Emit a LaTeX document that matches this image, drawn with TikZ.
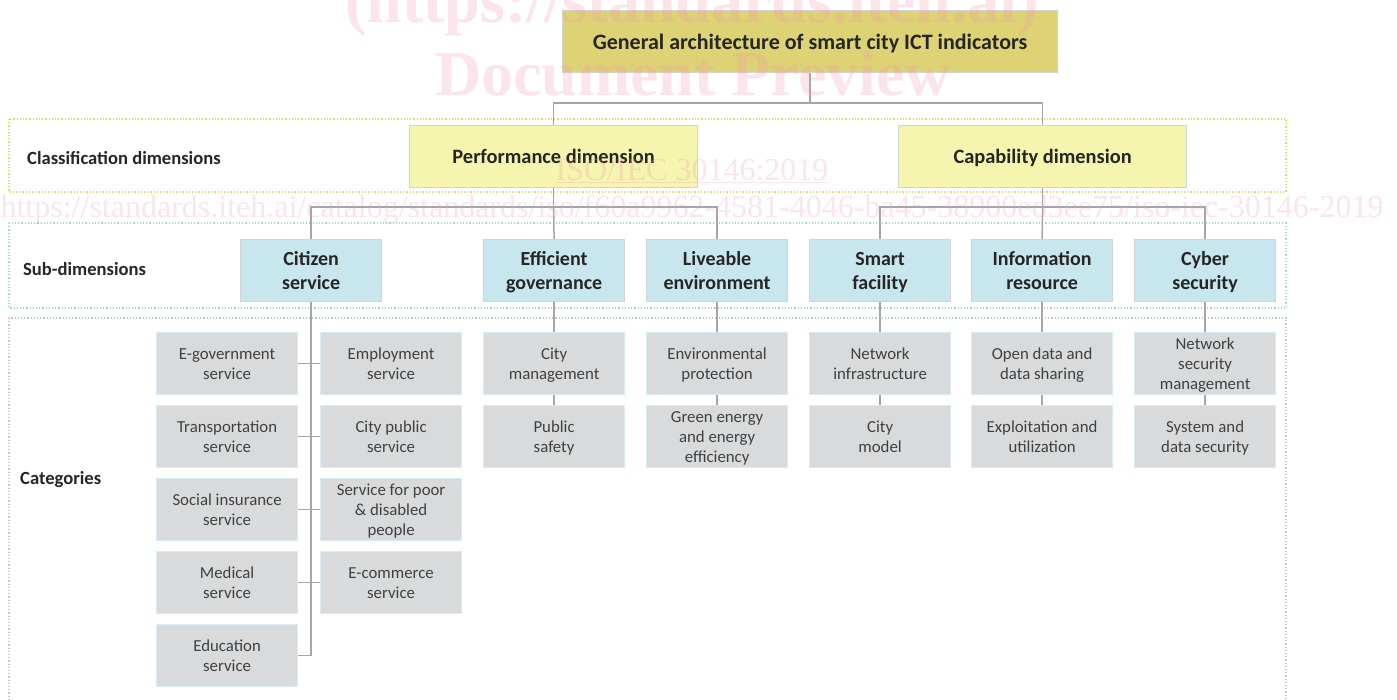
\documentclass[tikz,border=0pt]{standalone}
\usepackage{fontspec}
\usepackage{array}
\setmainfont{Carlito}
\newfontfamily\wmfont{Liberation Serif}
\newlength\bskip
\newcolumntype{C}{>{\rule[-0.2\bskip]{0pt}{\bskip}}c}
\newcommand\boxtext[1]{\setlength\bskip{\baselineskip}\renewcommand\arraystretch{0}\begin{tabular}{@{}C@{}}#1\end{tabular}}
\definecolor{titlefill}{RGB}{221,211,117}
\definecolor{dimfill}{RGB}{245,245,176}
\definecolor{subfill}{RGB}{200,230,238}
\definecolor{catfill}{RGB}{217,218,219}
\definecolor{catedge}{RGB}{215,236,244}
\definecolor{boxedge}{RGB}{212,212,212}
\definecolor{linkgray}{RGB}{166,166,166}
\definecolor{bandyellow}{RGB}{232,216,90}
\definecolor{bandblue}{RGB}{160,214,232}
\definecolor{bandgray}{RGB}{196,196,196}
\definecolor{txtdark}{RGB}{38,38,38}
\definecolor{txtcat}{RGB}{64,64,64}
\definecolor{wmpink}{RGB}{240,150,170}
\tikzset{
  base/.style={anchor=north west, inner sep=0pt, line width=1.2pt},
  titlebox/.style={base, fill=titlefill, draw=boxedge, text=txtdark, font=\bfseries\fontsize{22}{26}\selectfont},
  dimbox/.style={base, fill=dimfill, draw=boxedge, text=txtdark, font=\bfseries\fontsize{20.4}{24}\selectfont, minimum width=288pt, minimum height=62pt},
  subbox/.style={base, fill=subfill, draw=boxedge, text=txtdark, font=\bfseries\fontsize{20}{24}\selectfont, minimum width=141pt, minimum height=62pt},
  catbox/.style={base, fill=catfill, draw=catedge, text=txtcat, font=\fontsize{16.8}{20}\selectfont, minimum width=141pt, minimum height=62pt},
  bandlabel/.style={anchor=west, inner sep=0pt, text=txtdark, font=\bfseries\fontsize{18.6}{22}\selectfont},
  link/.style={draw=linkgray, line width=1.5pt},
  wm/.style={text=wmpink, opacity=0.25, inner sep=0pt}
}
\begin{document}
\begin{tikzpicture}[x=1pt,y=-1pt]
\useasboundingbox (0,0) rectangle (1397,699);
% bands
\draw[bandyellow, dotted, line width=1.2pt] (9,119) rectangle (1286,192);
\draw[bandblue, dotted, line width=1.2pt] (9,223) rectangle (1286,308);
\draw[bandgray, dotted, line width=1.2pt] (9,318) rectangle (1286,710);
\node[bandlabel] (lcls) at (27,158) {Classification dimensions};
\node[bandlabel] (lsub) at (23,269) {Sub-dimensions};
\node[bandlabel] (lcat) at (20,480) {Categories};
% title and dimensions
\node[titlebox, minimum width=495pt, minimum height=62pt] (t) at (562,10) {\boxtext{General architecture of smart city ICT indicators}};
\node[dimbox] (p) at (409,125) {\boxtext{Performance dimension}};
\node[dimbox] (c) at (898,125) {\boxtext{Capability dimension}};
% sub-dimensions
\node[subbox] (s1) at (240,239) {\boxtext{Citizen\\service}};
\node[subbox] (s2) at (483,239) {\boxtext{Efficient\\governance}};
\node[subbox] (s3) at (646,239) {\boxtext{Liveable\\environment}};
\node[subbox] (s4) at (809,239) {\boxtext{Smart\\facility}};
\node[subbox] (s5) at (971,239) {\boxtext{Information\\resource}};
\node[subbox] (s6) at (1134,239) {\boxtext{Cyber\\security}};
% citizen categories
\node[catbox] (a1) at (156,332) {\boxtext{E-government\\service}};
\node[catbox] (a2) at (156,405) {\boxtext{Transportation\\service}};
\node[catbox] (a3) at (156,478) {\boxtext{Social insurance\\service}};
\node[catbox] (a4) at (156,551) {\boxtext{Medical\\service}};
\node[catbox] (a5) at (156,624) {\boxtext{Education\\service}};
\node[catbox] (b1) at (320,332) {\boxtext{Employment\\service}};
\node[catbox] (b2) at (320,405) {\boxtext{City public\\service}};
\node[catbox] (b3) at (320,478) {\boxtext{Service for poor\\\&~disabled\\people}};
\node[catbox] (b4) at (320,551) {\boxtext{E-commerce\\service}};
% other categories
\node[catbox] (e1) at (483,332) {\boxtext{City\\management}};
\node[catbox] (e2) at (483,405) {\boxtext{Public\\safety}};
\node[catbox] (l1) at (646,332) {\boxtext{Environmental\\protection}};
\node[catbox] (l2) at (646,405) {\boxtext{Green energy\\and energy\\efficiency}};
\node[catbox] (f1) at (809,332) {\boxtext{Network\\infrastructure}};
\node[catbox] (f2) at (809,405) {\boxtext{City\\model}};
\node[catbox] (i1) at (971,332) {\boxtext{Open data and\\data sharing}};
\node[catbox] (i2) at (971,405) {\boxtext{Exploitation and\\utilization}};
\node[catbox] (y1) at (1134,332) {\boxtext{Network\\security\\management}};
\node[catbox] (y2) at (1134,405) {\boxtext{System and\\data security}};
% connectors top
\path[link] (t.south) -- (t.south |- 0,103);
\path[link] (p.north) -- (p.north |- 0,103) -- (c.north |- 0,103) -- (c.north);
\path[link] (p.south) -- (p.south |- 0,207);
\path[link] (s1.north) -- (s1.north |- 0,207) -- (s3.north |- 0,207) -- (s3.north);
\path[link] (s2.north) -- (p.south |- 0,207);
\path[link] (c.south) -- (c.south |- 0,207);
\path[link] (s4.north) -- (s4.north |- 0,207) -- (s6.north |- 0,207) -- (s6.north);
\path[link] (s5.north) -- (c.south |- 0,207);
% citizen trunk
\path[link] (s1.south) -- (s1.south |- a5.east);
\path[link] (a1.east) -- (b1.west);
\path[link] (a2.east) -- (b2.west);
\path[link] (a3.east) -- (b3.west);
\path[link] (a4.east) -- (b4.west);
\path[link] (a5.east) -- (s1.south |- a5.east);
% column connectors
\path[link] (s2.south) -- (e1.north);
\path[link] (e1.south) -- (e2.north);
\path[link] (s3.south) -- (l1.north);
\path[link] (l1.south) -- (l2.north);
\path[link] (s4.south) -- (f1.north);
\path[link] (f1.south) -- (f2.north);
\path[link] (s5.south) -- (i1.north);
\path[link] (i1.south) -- (i2.north);
\path[link] (s6.south) -- (y1.north);
\path[link] (y1.south) -- (y2.north);
% watermark
\node[wm, font=\wmfont\bfseries\fontsize{64}{64}\selectfont, anchor=base] (w1) at (692,22) {(https://standards.iteh.ai)};
\node[wm, font=\wmfont\bfseries\fontsize{64}{64}\selectfont, anchor=base] (w2) at (693,95) {Document Preview};
\node[wm, font=\wmfont\fontsize{32}{32}\selectfont, anchor=base] (w3) at (692,180) {\underline{ISO/IEC 30146:2019}};
\node[wm, font=\wmfont\fontsize{32}{32}\selectfont, anchor=base] (w4) at (692,217) {https://standards.iteh.ai/catalog/standards/iso/f60a9962-4581-4046-ba45-38900ed3ee75/iso-iec-30146-2019};
\end{tikzpicture}
\end{document}
